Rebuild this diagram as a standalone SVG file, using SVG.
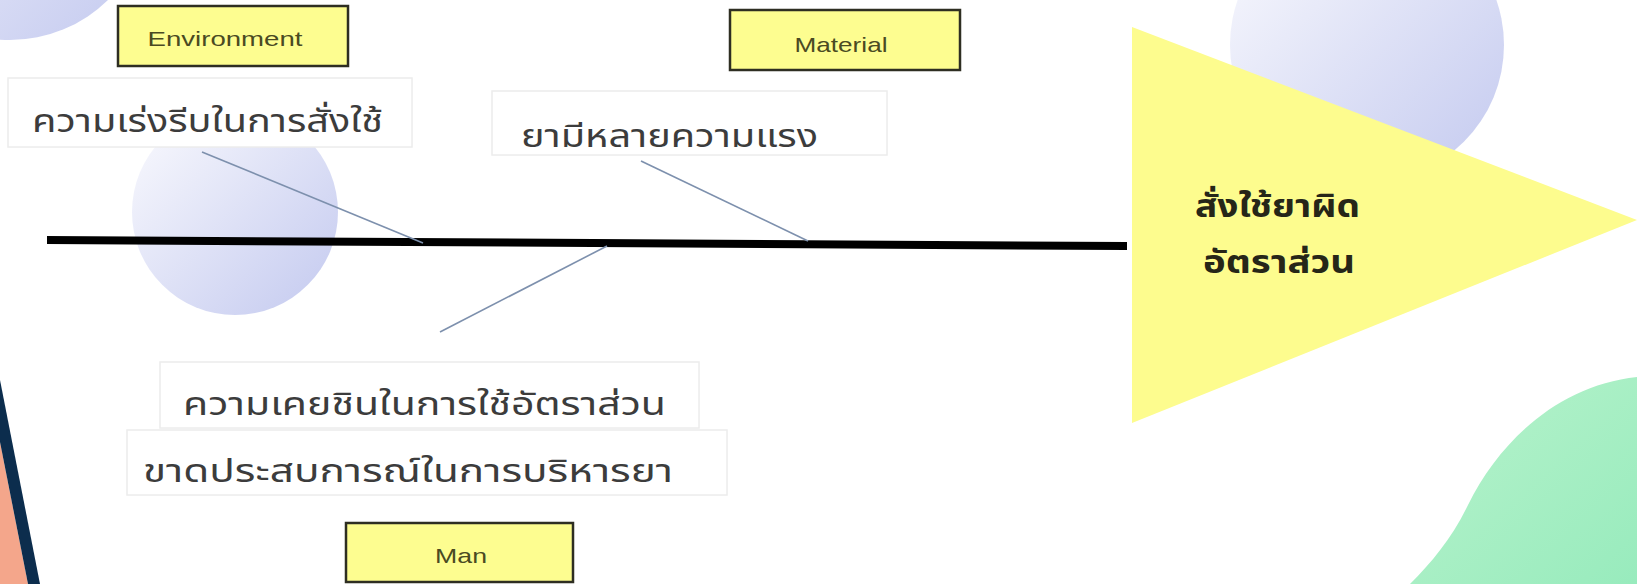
<svg xmlns="http://www.w3.org/2000/svg" width="1637" height="584" viewBox="0 0 1637 584">
<defs>
<linearGradient id="lav" x1="0" y1="0" x2="1" y2="1">
<stop offset="0" stop-color="#fbfbfe"/>
<stop offset="1" stop-color="#c3c9ef"/>
</linearGradient>
<linearGradient id="grn" x1="0" y1="0" x2="1" y2="1">
<stop offset="0" stop-color="#b8f3cc"/>
<stop offset="1" stop-color="#98ebbd"/>
</linearGradient>
<style>
.cat{fill:#fdfd90;stroke:#2e2e22;stroke-width:2.5}
.catt{font-family:"Liberation Sans",Arial,sans-serif;font-size:21px;fill:#4a4a22;text-anchor:middle}
.lbox{fill:#ffffff;stroke:#ececec;stroke-width:1.5}
.th{font-family:"Noto Sans Thai","Noto Sans Thai UI","Tahoma","DejaVu Sans",sans-serif;font-size:32px;fill:#3c3c3c}
.thb{font-family:"Noto Sans Thai","Noto Sans Thai UI","Tahoma","DejaVu Sans",sans-serif;font-size:31px;font-weight:bold;fill:#262618}
.bone{stroke:#7d90ad;stroke-width:1.6;fill:none}
</style>
</defs>
<rect width="1637" height="584" fill="#ffffff"/>
<g id="background">
<circle cx="10" cy="-100" r="140" fill="url(#lav)"/>
<circle cx="235" cy="212" r="103" fill="url(#lav)"/>
<circle cx="1367" cy="45" r="137" fill="url(#lav)"/>
<path d="M1637,377 C1560,385 1500,440 1468,505 C1452,538 1432,562 1410,584 L1637,584 Z" fill="url(#grn)"/>
<polygon points="0,442 28,584 0,584" fill="#f4a68b"/>
<polygon points="0,380 40,584 28,584 0,442" fill="#0c2d4d"/>
</g>
<g id="effect">
<polygon points="1132,27 1637,220 1132,423" fill="#fdfc8e"/>
<text class="thb" x="1195" y="217" textLength="165" lengthAdjust="spacingAndGlyphs">สั่งใช้ยาผิด</text>
<text class="thb" x="1203" y="273" textLength="152" lengthAdjust="spacingAndGlyphs">อัตราส่วน</text>
</g>
<g id="connectors">
<line x1="47" y1="240" x2="1127" y2="246" stroke="#000000" stroke-width="8"/>
<line class="bone" x1="202" y1="152" x2="423" y2="243"/>
<line class="bone" x1="641" y1="161" x2="808" y2="241"/>
<line class="bone" x1="607" y1="246" x2="440" y2="332"/>
</g>
<g id="cause1">
<rect class="lbox" x="8" y="78" width="404" height="69"/>
<text class="th" x="32" y="132" textLength="351" lengthAdjust="spacingAndGlyphs">ความเร่งรีบในการสั่งใช้</text>
</g>
<g id="cause2">
<rect class="lbox" x="492" y="91" width="395" height="64"/>
<text class="th" x="521" y="147" textLength="297" lengthAdjust="spacingAndGlyphs">ยามีหลายความแรง</text>
</g>
<g id="cause3">
<rect class="lbox" x="160" y="362" width="539" height="66"/>
<text class="th" x="183" y="415" textLength="483" lengthAdjust="spacingAndGlyphs">ความเคยชินในการใช้อัตราส่วน</text>
</g>
<g id="cause4">
<rect class="lbox" x="127" y="430" width="600" height="65"/>
<text class="th" x="143" y="482" textLength="530" lengthAdjust="spacingAndGlyphs">ขาดประสบการณ์ในการบริหารยา</text>
</g>
<g id="environment">
<rect class="cat" x="118" y="6" width="230" height="60"/>
<text class="catt" x="225" y="46" textLength="155" lengthAdjust="spacingAndGlyphs">Environment</text>
</g>
<g id="material">
<rect class="cat" x="730" y="10" width="230" height="60"/>
<text class="catt" x="841" y="52" textLength="93" lengthAdjust="spacingAndGlyphs">Material</text>
</g>
<g id="man">
<rect class="cat" x="346" y="523" width="227" height="59"/>
<text class="catt" x="461" y="563" textLength="52" lengthAdjust="spacingAndGlyphs">Man</text>
</g>
</svg>
